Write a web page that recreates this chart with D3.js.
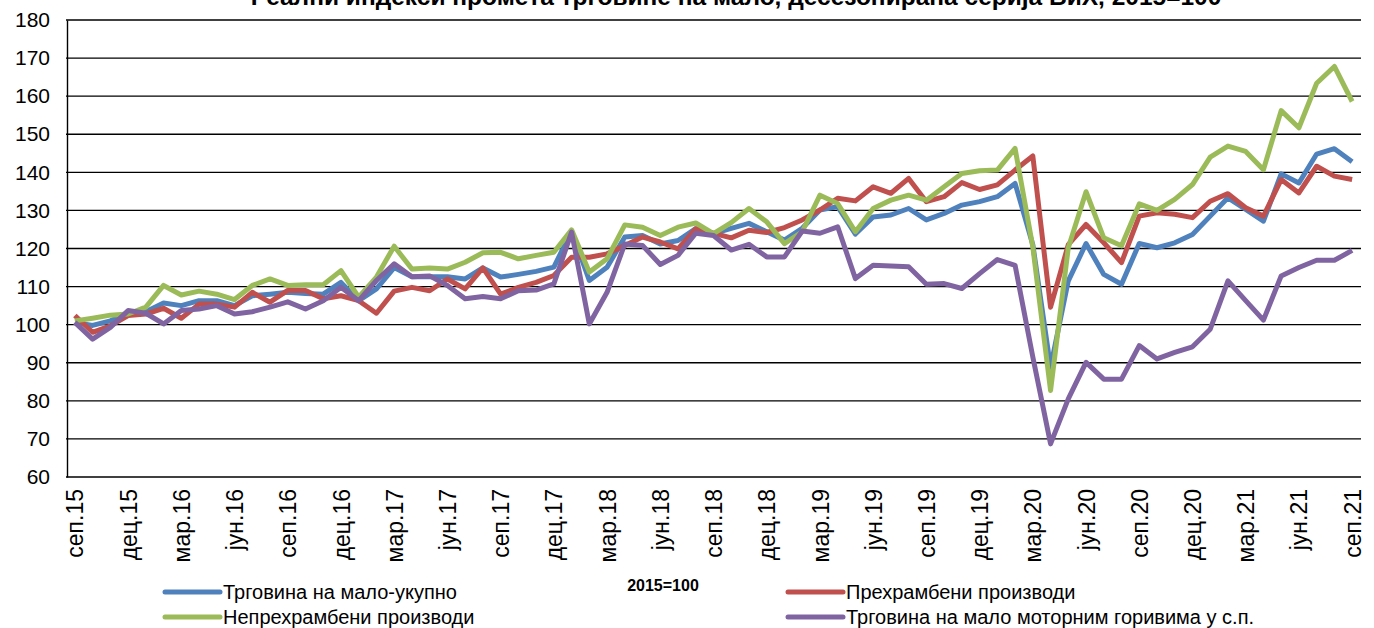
<!DOCTYPE html>
<html>
<head>
<meta charset="utf-8">
<script src="https://cdn.jsdelivr.net/npm/d3@7"></script>
<style>
  body { margin: 0; background: #fff; }
  svg text { font-family: "Liberation Sans", Arial, sans-serif; fill: #000; }
</style>
</head>
<body>
<svg id="chart" width="1374" height="628"></svg>
<script>
// monthly, sep.15 .. sep.21
var monthNames = ['јан','феб','мар','апр','мај','јун','јул','авг','сеп','окт','нов','дец'];
var tickLabels = ['сеп.15','дец.15','мар.16','јун.16','сеп.16','дец.16','мар.17','јун.17','сеп.17','дец.17',
  'мар.18','јун.18','сеп.18','дец.18','мар.19','јун.19','сеп.19','дец.19','мар.20','јун.20','сеп.20','дец.20',
  'мар.21','јун.21','сеп.21'];
var yTicks = [60,70,80,90,100,110,120,130,140,150,160,170,180];

var ukupno = [100.6,99.8,101,103,103.4,105.7,105,106.3,106.3,105,107.6,108,108.5,108.2,108,111.1,106.3,109.4,115,
  112.6,112.6,112.6,112,114.9,112.5,113.2,114,115.1,124.6,111.6,115.1,123,123.4,121.2,122.1,125.2,123.9,125.3,
  126.6,124.4,122.2,125.3,130.1,131,123.8,128.3,128.8,130.5,127.5,129.2,131.4,132.3,133.6,137.1,121,88.8,111.5,
  121.3,113.2,110.6,121.3,120.2,121.5,123.7,128.5,133.3,130.3,127.2,139.6,137.2,144.8,146.2,142.8];
var prehrambeni = [102.4,98,99.7,102.4,102.8,104.3,101.7,105.4,105.4,104.6,108.5,105.9,109,109,106.8,107.6,106.3,
  103,108.8,109.8,108.9,112,109.4,114.9,108,109.8,111.1,112.9,117.7,117.7,118.6,120.8,123,121.7,119.9,125.2,124,
  122.8,124.8,124.2,125.5,127.5,130.1,133.2,132.5,136.2,134.5,138.4,132.3,133.6,137.3,135.5,136.7,140.6,144.3,
  104.6,121,126.3,121.5,116.3,128.5,129.4,129,128.1,132.4,134.4,130.7,128.5,138.1,134.6,141.6,139,138.1];
var neprehrambeni = [101,101.7,102.5,102.8,104.6,110.3,107.8,108.8,108,106.6,110.3,112,110.3,110.5,110.5,114.2,
  107.2,112.5,120.6,114.6,114.9,114.6,116.4,118.9,119,117.3,118.2,119,124.9,113.8,117.3,126.2,125.6,123.4,125.6,
  126.7,123.9,126.8,130.5,127,121.3,124.4,134,131.8,124.4,130.5,132.7,134,132.7,136.2,139.7,140.4,140.6,146.3,
  120.4,82.7,120.2,134.9,122.8,120.7,131.7,130,132.9,136.8,144,146.9,145.5,140.7,156.2,151.7,163.4,167.8,158.6];
var gorivo = [100.6,96.2,99.3,103.7,103,100.2,103.7,104.1,105,102.8,103.4,104.6,106,104.1,106.3,109.8,106.3,111.6,
  116,112.6,112.8,110.3,106.8,107.4,106.8,108.9,109.1,110.7,124.3,100.2,108.5,121.2,120.8,115.8,118.2,124,123.4,
  119.6,121.1,117.8,117.8,124.6,124,125.7,112.1,115.6,115.4,115.2,110.6,110.8,109.5,113.4,117.1,115.6,91.5,68.7,
  80.5,90.1,85.7,85.7,94.5,91,92.7,94.2,98.8,111.5,106.3,101.2,112.8,115,116.9,116.9,119.5];

var series = [
  {name: 'Трговина на мало-укупно', values: ukupno, color: '#4f81bd'},
  {name: 'Прехрамбени производи', values: prehrambeni, color: '#c0504d'},
  {name: 'Непрехрамбени производи', values: neprehrambeni, color: '#9bbb59'},
  {name: 'Трговина на мало моторним горивима у с.п.', values: gorivo, color: '#8064a2'}
];

var months = [];
for (var i = 0; i < ukupno.length; i++) {
  var m = (8 + i) % 12, yr = 15 + Math.floor((8 + i) / 12);
  months.push(monthNames[m] + '.' + yr);
}

var svg = d3.select('#chart');
var plotLeft = 66, plotRight = 1361, plotTop = 20, plotBottom = 477;

var x = d3.scalePoint().domain(months).range([plotLeft, plotRight]).padding(0.5);
var y = d3.scaleLinear().domain([60, 180]).range([plotBottom, plotTop]);

// title (cut off by top edge like the original)
svg.append('text')
  .attr('x', 736).attr('y', 5)
  .attr('text-anchor', 'middle')
  .style('font-size', '24.5px').style('font-weight', 'bold')
  .text('Реални индекси промета трговине на мало, десезонирана серија БиХ, 2015=100');

// gridlines
svg.append('g').selectAll('line')
  .data(yTicks)
  .enter().append('line')
  .attr('x1', plotLeft).attr('x2', plotRight)
  .attr('y1', function(d) { return y(d); })
  .attr('y2', function(d) { return y(d); })
  .attr('stroke', '#000').attr('stroke-width', 1.4);

// y axis
var yAxis = svg.append('g')
  .attr('transform', 'translate(' + (plotLeft + 1) + ',0)')
  .call(d3.axisLeft(y).tickValues(yTicks).tickSize(0).tickPadding(17));
yAxis.select('.domain').attr('stroke', '#000').attr('stroke-width', 1.4);
yAxis.selectAll('text').style('font-size', '21px').style('font-family', '"Liberation Sans", sans-serif');

// x axis
var xAxis = svg.append('g')
  .attr('transform', 'translate(0,' + plotBottom + ')')
  .call(d3.axisBottom(x).tickValues(months.filter(function(d, i) { return i % 3 === 0; }))
    .tickFormat(function(d, i) { return tickLabels[i]; }).tickSize(0));
xAxis.select('.domain').remove();
xAxis.selectAll('text')
  .style('font-size', '23px').style('font-family', '"Liberation Sans", sans-serif')
  .attr('text-anchor', 'end')
  .attr('transform', 'rotate(-90)')
  .attr('x', -12).attr('y', 0).attr('dy', '0.35em');

// lines
var line = d3.line()
  .x(function(d, i) { return x(months[i]); })
  .y(function(d) { return y(d); });

svg.append('g').selectAll('path')
  .data(series)
  .enter().append('path')
  .attr('d', function(s) { return line(s.values); })
  .attr('fill', 'none')
  .attr('stroke', function(s) { return s.color; })
  .attr('stroke-width', 5)
  .attr('stroke-linejoin', 'round');

// base note
svg.append('text')
  .attr('x', 663).attr('y', 591)
  .attr('text-anchor', 'middle')
  .style('font-size', '16px').style('font-weight', 'bold')
  .text('2015=100');

// legend
var legendPos = [[165, 592], [788, 592], [165, 617], [788, 617]];
var order = [0, 1, 2, 3];
var lg = svg.append('g').selectAll('g')
  .data(order)
  .enter().append('g')
  .attr('transform', function(d, i) { return 'translate(' + legendPos[i][0] + ',' + legendPos[i][1] + ')'; });
lg.append('line')
  .attr('x1', 0).attr('x2', 55).attr('y1', 0).attr('y2', 0)
  .attr('stroke', function(d) { return series[d].color; })
  .attr('stroke-width', 5).attr('stroke-linecap', 'round');
lg.append('text')
  .attr('x', 58).attr('y', 0).attr('dy', '0.35em')
  .style('font-size', '20px')
  .text(function(d) { return series[d].name; });
</script>
</body>
</html>
